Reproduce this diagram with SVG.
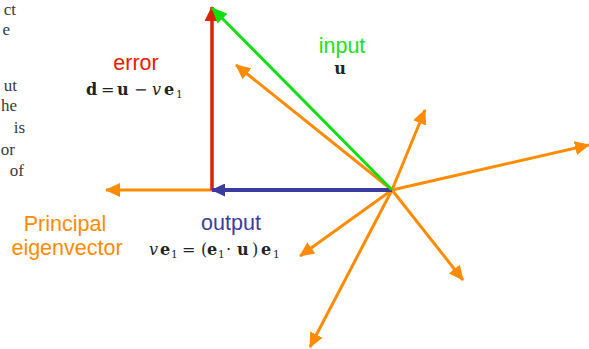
<svg xmlns="http://www.w3.org/2000/svg" width="589" height="349" viewBox="0 0 589 349">
<style>
  .lbl { font-family: "Liberation Sans", Arial, sans-serif; font-size: 21.5px; }
  .math { font-family: "DejaVu Serif", "Liberation Serif", serif; font-size: 16px; fill: #222; }
  .b { font-weight: bold; }
  .it { font-style: italic; }
  .sub { font-size: 10.5px; }
  .frag { font-family: "Liberation Serif", "Times New Roman", serif; font-size: 17px; fill: #3a3a3a; }
  .or { stroke: #FF8C00; stroke-width: 3; fill: none; marker-end: url(#ahO); }
</style>
<defs>
  <marker id="ahO" markerUnits="userSpaceOnUse" viewBox="0 0 15 14" markerWidth="15" markerHeight="14" refX="14" refY="7" orient="auto"><path d="M0,0 L15,7 L0,14 z" fill="#FF8C00"/></marker>
  <marker id="ahR" markerUnits="userSpaceOnUse" viewBox="0 0 15 15" markerWidth="15" markerHeight="15" refX="14" refY="7.5" orient="auto"><path d="M0,0 L15,7.5 L0,15 z" fill="#DD2200"/></marker>
  <marker id="ahG" markerUnits="userSpaceOnUse" viewBox="0 0 16 14" markerWidth="16" markerHeight="14" refX="15" refY="7" orient="auto"><path d="M0,0 L16,7 L0,14 z" fill="#11DD11"/></marker>
  <marker id="ahB" markerUnits="userSpaceOnUse" viewBox="0 0 14 13" markerWidth="14" markerHeight="13" refX="13" refY="6.5" orient="auto"><path d="M0,0 L14,6.5 L0,13 z" fill="#3C3CA0"/></marker>
</defs>

<g id="page-fragments">
  <text class="frag" x="16" y="15" text-anchor="end">ct</text>
  <text class="frag" x="10" y="35" text-anchor="end">e</text>
  <text class="frag" x="17" y="91" text-anchor="end">ut</text>
  <text class="frag" x="17" y="111" text-anchor="end">he</text>
  <text class="frag" x="25" y="133" text-anchor="end">is</text>
  <text class="frag" x="15" y="155" text-anchor="end">or</text>
  <text class="frag" x="24" y="176" text-anchor="end">of</text>
</g>

<g id="connectors">
  <line class="or" x1="392" y1="190" x2="106" y2="190"/>
  <line class="or" x1="392" y1="190" x2="236" y2="65"/>
  <line class="or" x1="392" y1="190" x2="425" y2="110"/>
  <line class="or" x1="392" y1="190" x2="589" y2="145"/>
  <line class="or" x1="392" y1="190" x2="300" y2="256"/>
  <line class="or" x1="392" y1="190" x2="463" y2="280"/>
  <line class="or" x1="392" y1="190" x2="310" y2="347"/>
  <line id="error-vec" x1="212" y1="190" x2="212" y2="7" stroke="#DD2200" stroke-width="3.5" marker-end="url(#ahR)"/>
  <line id="output-vec" x1="392" y1="190" x2="212" y2="190" stroke="#3C3CA0" stroke-width="4" marker-end="url(#ahB)"/>
  <line id="input-vec" x1="392" y1="190" x2="212" y2="8" stroke="#11DD11" stroke-width="3" marker-end="url(#ahG)"/>
</g>

<g id="error-label">
  <text class="lbl" x="136" y="70" text-anchor="middle" fill="#E62000">error</text>
  <text class="math" y="95"><tspan class="b" x="86">d</tspan><tspan x="101">=</tspan><tspan class="b" x="117">u</tspan><tspan x="134">−</tspan><tspan class="it" x="152">v</tspan><tspan class="b" x="164">e</tspan><tspan class="sub" x="176" dy="3">1</tspan></text>
</g>

<g id="input-label">
  <text class="lbl" x="342" y="53" text-anchor="middle" fill="#22DD22">input</text>
  <text class="math b" x="340" y="74" text-anchor="middle">u</text>
</g>

<g id="principal-label">
  <text class="lbl" x="65" y="231" text-anchor="middle" fill="#FF8C00">Principal</text>
  <text class="lbl" x="67" y="255" text-anchor="middle" fill="#FF8C00">eigenvector</text>
</g>

<g id="output-label">
  <text class="lbl" x="231" y="230" text-anchor="middle" fill="#3C3CA0">output</text>
  <text class="math" y="255"><tspan class="it" x="149">v</tspan><tspan class="b" x="160">e</tspan><tspan class="sub" x="171" dy="3">1</tspan><tspan x="182" dy="-3">=</tspan><tspan x="201">(</tspan><tspan class="b" x="207">e</tspan><tspan class="sub" x="218" dy="3">1</tspan><tspan x="226" dy="-3">·</tspan><tspan class="b" x="237">u</tspan><tspan x="252">)</tspan><tspan class="b" x="261">e</tspan><tspan class="sub" x="273" dy="3">1</tspan></text>
</g>
</svg>
